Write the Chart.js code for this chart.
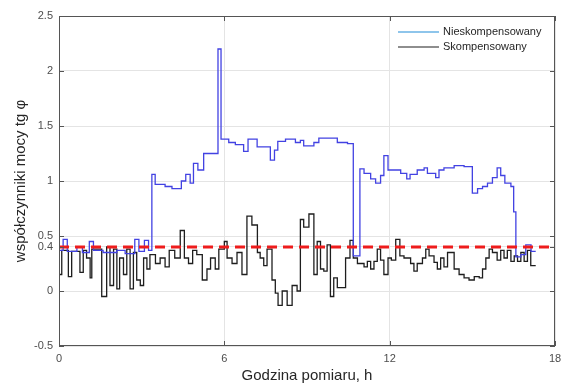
<!DOCTYPE html>
<html>
<head>
<meta charset="utf-8">
<script src="https://cdn.jsdelivr.net/npm/chart.js@4"></script>
<style>
  html, body { margin: 0; padding: 0; background: #fff; }
  canvas { display: block; }
</style>
</head>
<body>
<canvas id="wykres" width="562" height="385"></canvas>
<script>
// czas (h) poczatku kazdego schodka i wartosc tg phi
const czasNieskomp = [0, 0.15, 0.3, 0.65, 0.85, 1.1, 1.25, 1.6, 2.1, 2.4, 2.75, 2.9, 3.1, 3.25,
  3.37, 3.49, 3.85, 4.1, 4.44, 4.6, 4.76, 4.88, 5.04, 5.25, 5.77, 5.88, 6.16, 6.4, 6.7, 6.86,
  7.19, 7.67, 7.82, 7.94, 8.22, 8.58, 8.76, 8.88, 9.25, 9.43, 10.1, 10.47, 10.68, 10.92, 11.07,
  11.31, 11.49, 11.67, 11.79, 11.94, 12.4, 12.62, 12.74, 13.0, 13.25, 13.37, 13.67, 13.79, 13.97,
  14.34, 14.7, 15.0, 15.19, 15.37, 15.55, 15.73, 15.9, 16.03, 16.18, 16.4, 16.5, 16.58, 16.76,
  16.94, 17.13];
const nieskompensowany = [0.37, 0.47, 0.36, 0.4, 0.35, 0.45, 0.37, 0.35, 0.37, 0.34, 0.47, 0.36, 0.46, 0.37,
  1.06, 0.97, 0.95, 0.93, 1.0, 1.06, 0.98, 1.16, 1.1, 1.25, 2.2, 1.38, 1.35, 1.33, 1.27, 1.38,
  1.31, 1.19, 1.28, 1.36, 1.38, 1.35, 1.37, 1.32, 1.35, 1.39, 1.35, 1.34, 0.32, 1.11, 1.07,
  1.02, 0.98, 1.05, 1.23, 1.1, 1.07, 1.02, 1.06, 1.1, 1.12, 1.07, 1.03, 1.1, 1.12,
  1.14, 1.13, 0.89, 0.93, 0.95, 0.98, 1.03, 1.12, 1.05, 0.98, 0.95, 0.72, 0.31, 0.33,
  0.42, 0.36];

const czasSkomp = [0, 0.1, 0.34, 0.46, 0.76, 0.88, 1.0, 1.13, 1.19, 1.55, 1.73, 1.85, 1.98, 2.1,
  2.2, 2.34, 2.46, 2.58, 2.7, 2.82, 2.95, 3.07, 3.19, 3.3, 3.5, 3.67, 3.85, 4.0, 4.2, 4.4, 4.55,
  4.7, 4.85, 5.0, 5.2, 5.37, 5.5, 5.67, 5.8, 6.0, 6.1, 6.28, 6.46, 6.64, 6.82, 7.0, 7.2, 7.3,
  7.43, 7.55, 7.73, 7.85, 7.95, 8.1, 8.28, 8.46, 8.64, 8.76, 8.88, 9.07, 9.25, 9.37, 9.49, 9.61,
  9.73, 9.85, 9.97, 10.1, 10.4, 10.56, 10.68, 10.83, 11.07, 11.19, 11.31, 11.43, 11.55, 11.67,
  11.79, 11.94, 12.06, 12.22, 12.37, 12.52, 12.76, 12.88, 13.0, 13.19, 13.31, 13.43, 13.61,
  13.73, 13.85, 13.97, 14.1, 14.34, 14.52, 14.7, 14.88, 15.07, 15.25, 15.37, 15.49, 15.61,
  15.73, 15.9, 16.03, 16.15, 16.27, 16.4, 16.52, 16.64, 16.76, 16.88, 17.0, 17.12];
const skompensowany = [0.15, 0.37, 0.13, 0.36, 0.17, 0.37, 0.3, 0.12, 0.38, -0.05, 0.4, 0.05, 0.38, 0.02,
  0.3, 0.15, 0.38, 0.02, 0.35, 0.1, 0.05, 0.3, 0.2, 0.33, 0.25, 0.3, 0.22, 0.37, 0.3, 0.55, 0.3,
  0.25, 0.37, 0.33, 0.1, 0.2, 0.3, 0.2, 0.38, 0.45, 0.3, 0.25, 0.35, 0.15, 0.68, 0.6, 0.35, 0.3,
  0.23, 0.38, 0.1, -0.02, -0.13, 0.0, -0.13, 0.05, 0.0, 0.65, 0.58, 0.7, 0.15, 0.45, 0.2, 0.18,
  0.42, -0.05, 0.12, 0.03, 0.3, 0.46, 0.3, 0.25, 0.22, 0.27, 0.2, 0.27, 0.38, 0.28,
  0.15, 0.3, 0.28, 0.47, 0.32, 0.3, 0.25, 0.18, 0.25, 0.3, 0.38, 0.32, 0.26,
  0.2, 0.3, 0.22, 0.35, 0.2, 0.15, 0.12, 0.1, 0.13, 0.12, 0.2, 0.3, 0.38,
  0.35, 0.28, 0.37, 0.3, 0.37, 0.27, 0.32, 0.27, 0.35, 0.27, 0.37, 0.23];
const koniecPomiaru = 17.3;

const granica = 0.4; // dopuszczalny tg phi
const xTicks = [0, 6, 12, 18];
const yTicks = [-0.5, 0, 0.4, 0.5, 1, 1.5, 2, 2.5];

const KOLOR_NIESKOMP = 'rgb(66, 66, 226)';
const KOLOR_NIESKOMP_LEGENDA = 'rgb(30, 140, 215)';
const KOLOR_SKOMP = '#1e1e1e';
const KOLOR_GRANICA = 'rgb(238, 28, 28)';
const KOLOR_RAMKI = '#555';
const FONT = '"Liberation Sans", Arial, sans-serif';

function schodki(czas, wartosci, koniec) {
  const pts = czas.map((t, i) => ({ x: t, y: wartosci[i] }));
  pts.push({ x: koniec, y: wartosci[wartosci.length - 1] });
  return pts;
}

const ramka = {
  id: 'ramka',
  afterDraw(chart) {
    const { ctx, chartArea: a, scales } = chart;
    ctx.save();
    ctx.strokeStyle = KOLOR_RAMKI;
    ctx.lineWidth = 1;
    ctx.strokeRect(a.left + 0.5, a.top + 0.5, a.right - a.left - 1, a.bottom - a.top - 1);
    ctx.beginPath();
    xTicks.forEach(v => {
      const px = Math.round(scales.x.getPixelForValue(v)) + 0.5;
      ctx.moveTo(px, a.bottom); ctx.lineTo(px, a.bottom - 5);
      ctx.moveTo(px, a.top); ctx.lineTo(px, a.top + 5);
    });
    yTicks.forEach(v => {
      const py = Math.round(scales.y.getPixelForValue(v)) + 0.5;
      ctx.moveTo(a.left, py); ctx.lineTo(a.left + 5, py);
      ctx.moveTo(a.right, py); ctx.lineTo(a.right - 5, py);
    });
    ctx.stroke();

    // legenda
    const pozycje = [
      { tekst: 'Nieskompensowany', kolor: KOLOR_NIESKOMP_LEGENDA },
      { tekst: 'Skompensowany', kolor: KOLOR_SKOMP },
    ];
    ctx.font = '11px ' + FONT;
    ctx.textBaseline = 'middle';
    pozycje.forEach((p, i) => {
      const y = a.top + 16 + i * 15;
      const x0 = a.right - 157;
      ctx.strokeStyle = p.kolor;
      ctx.lineWidth = 1.2;
      ctx.beginPath();
      ctx.moveTo(x0, y); ctx.lineTo(x0 + 41, y);
      ctx.stroke();
      ctx.fillStyle = '#262626';
      ctx.fillText(p.tekst, x0 + 45, y);
    });
    ctx.restore();
  }
};

new Chart(document.getElementById('wykres'), {
  type: 'line',
  data: {
    datasets: [
      {
        label: 'Nieskompensowany',
        data: schodki(czasNieskomp, nieskompensowany, koniecPomiaru),
        borderColor: KOLOR_NIESKOMP,
        borderWidth: 1.3,
        stepped: true,
        pointRadius: 0,
        order: 2,
      },
      {
        label: 'Skompensowany',
        data: schodki(czasSkomp, skompensowany, koniecPomiaru),
        borderColor: KOLOR_SKOMP,
        borderWidth: 1.3,
        stepped: true,
        pointRadius: 0,
        order: 3,
      },
      {
        label: 'tg φ dopuszczalny',
        data: [{ x: xTicks[0], y: granica }, { x: xTicks[xTicks.length - 1], y: granica }],
        borderColor: KOLOR_GRANICA,
        borderWidth: 3,
        borderDash: [10, 6],
        pointRadius: 0,
        order: 1,
      },
    ],
  },
  options: {
    responsive: false,
    animation: false,
    layout: { padding: { top: 16, right: 7, left: 0, bottom: 0 } },
    plugins: {
      legend: { display: false },
      tooltip: { enabled: false },
    },
    scales: {
      x: {
        type: 'linear',
        min: 0,
        max: 18,
        afterBuildTicks: scale => { scale.ticks = xTicks.map(v => ({ value: v })); },
        afterFit: scale => { scale.height = 39; scale.paddingRight = 0; },
        grid: { color: '#e4e4e4', drawTicks: false },
        border: { display: false },
        ticks: { padding: 6, color: '#4d4d4d', font: { family: FONT, size: 11 }, maxRotation: 0 },
        title: {
          display: true,
          text: 'Godzina pomiaru, h',
          color: '#262626',
          font: { family: FONT, size: 15 },
          padding: { top: 0, bottom: 0 },
        },
      },
      y: {
        type: 'linear',
        min: -0.5,
        max: 2.5,
        afterBuildTicks: scale => { scale.ticks = yTicks.map(v => ({ value: v })); },
        afterFit: scale => { scale.width = 59; },
        grid: { color: '#e4e4e4', drawTicks: false },
        border: { display: false },
        ticks: {
          padding: 6,
          autoSkip: false,
          color: '#4d4d4d',
          font: { family: FONT, size: 11 },
          callback: v => String(v),
        },
        title: {
          display: true,
          text: 'współczynniki mocy tg φ',
          color: '#262626',
          font: { family: FONT, size: 15 },
          padding: { top: 12, bottom: 0 },
        },
      },
    },
  },
  plugins: [ramka],
});
</script>
</body>
</html>
